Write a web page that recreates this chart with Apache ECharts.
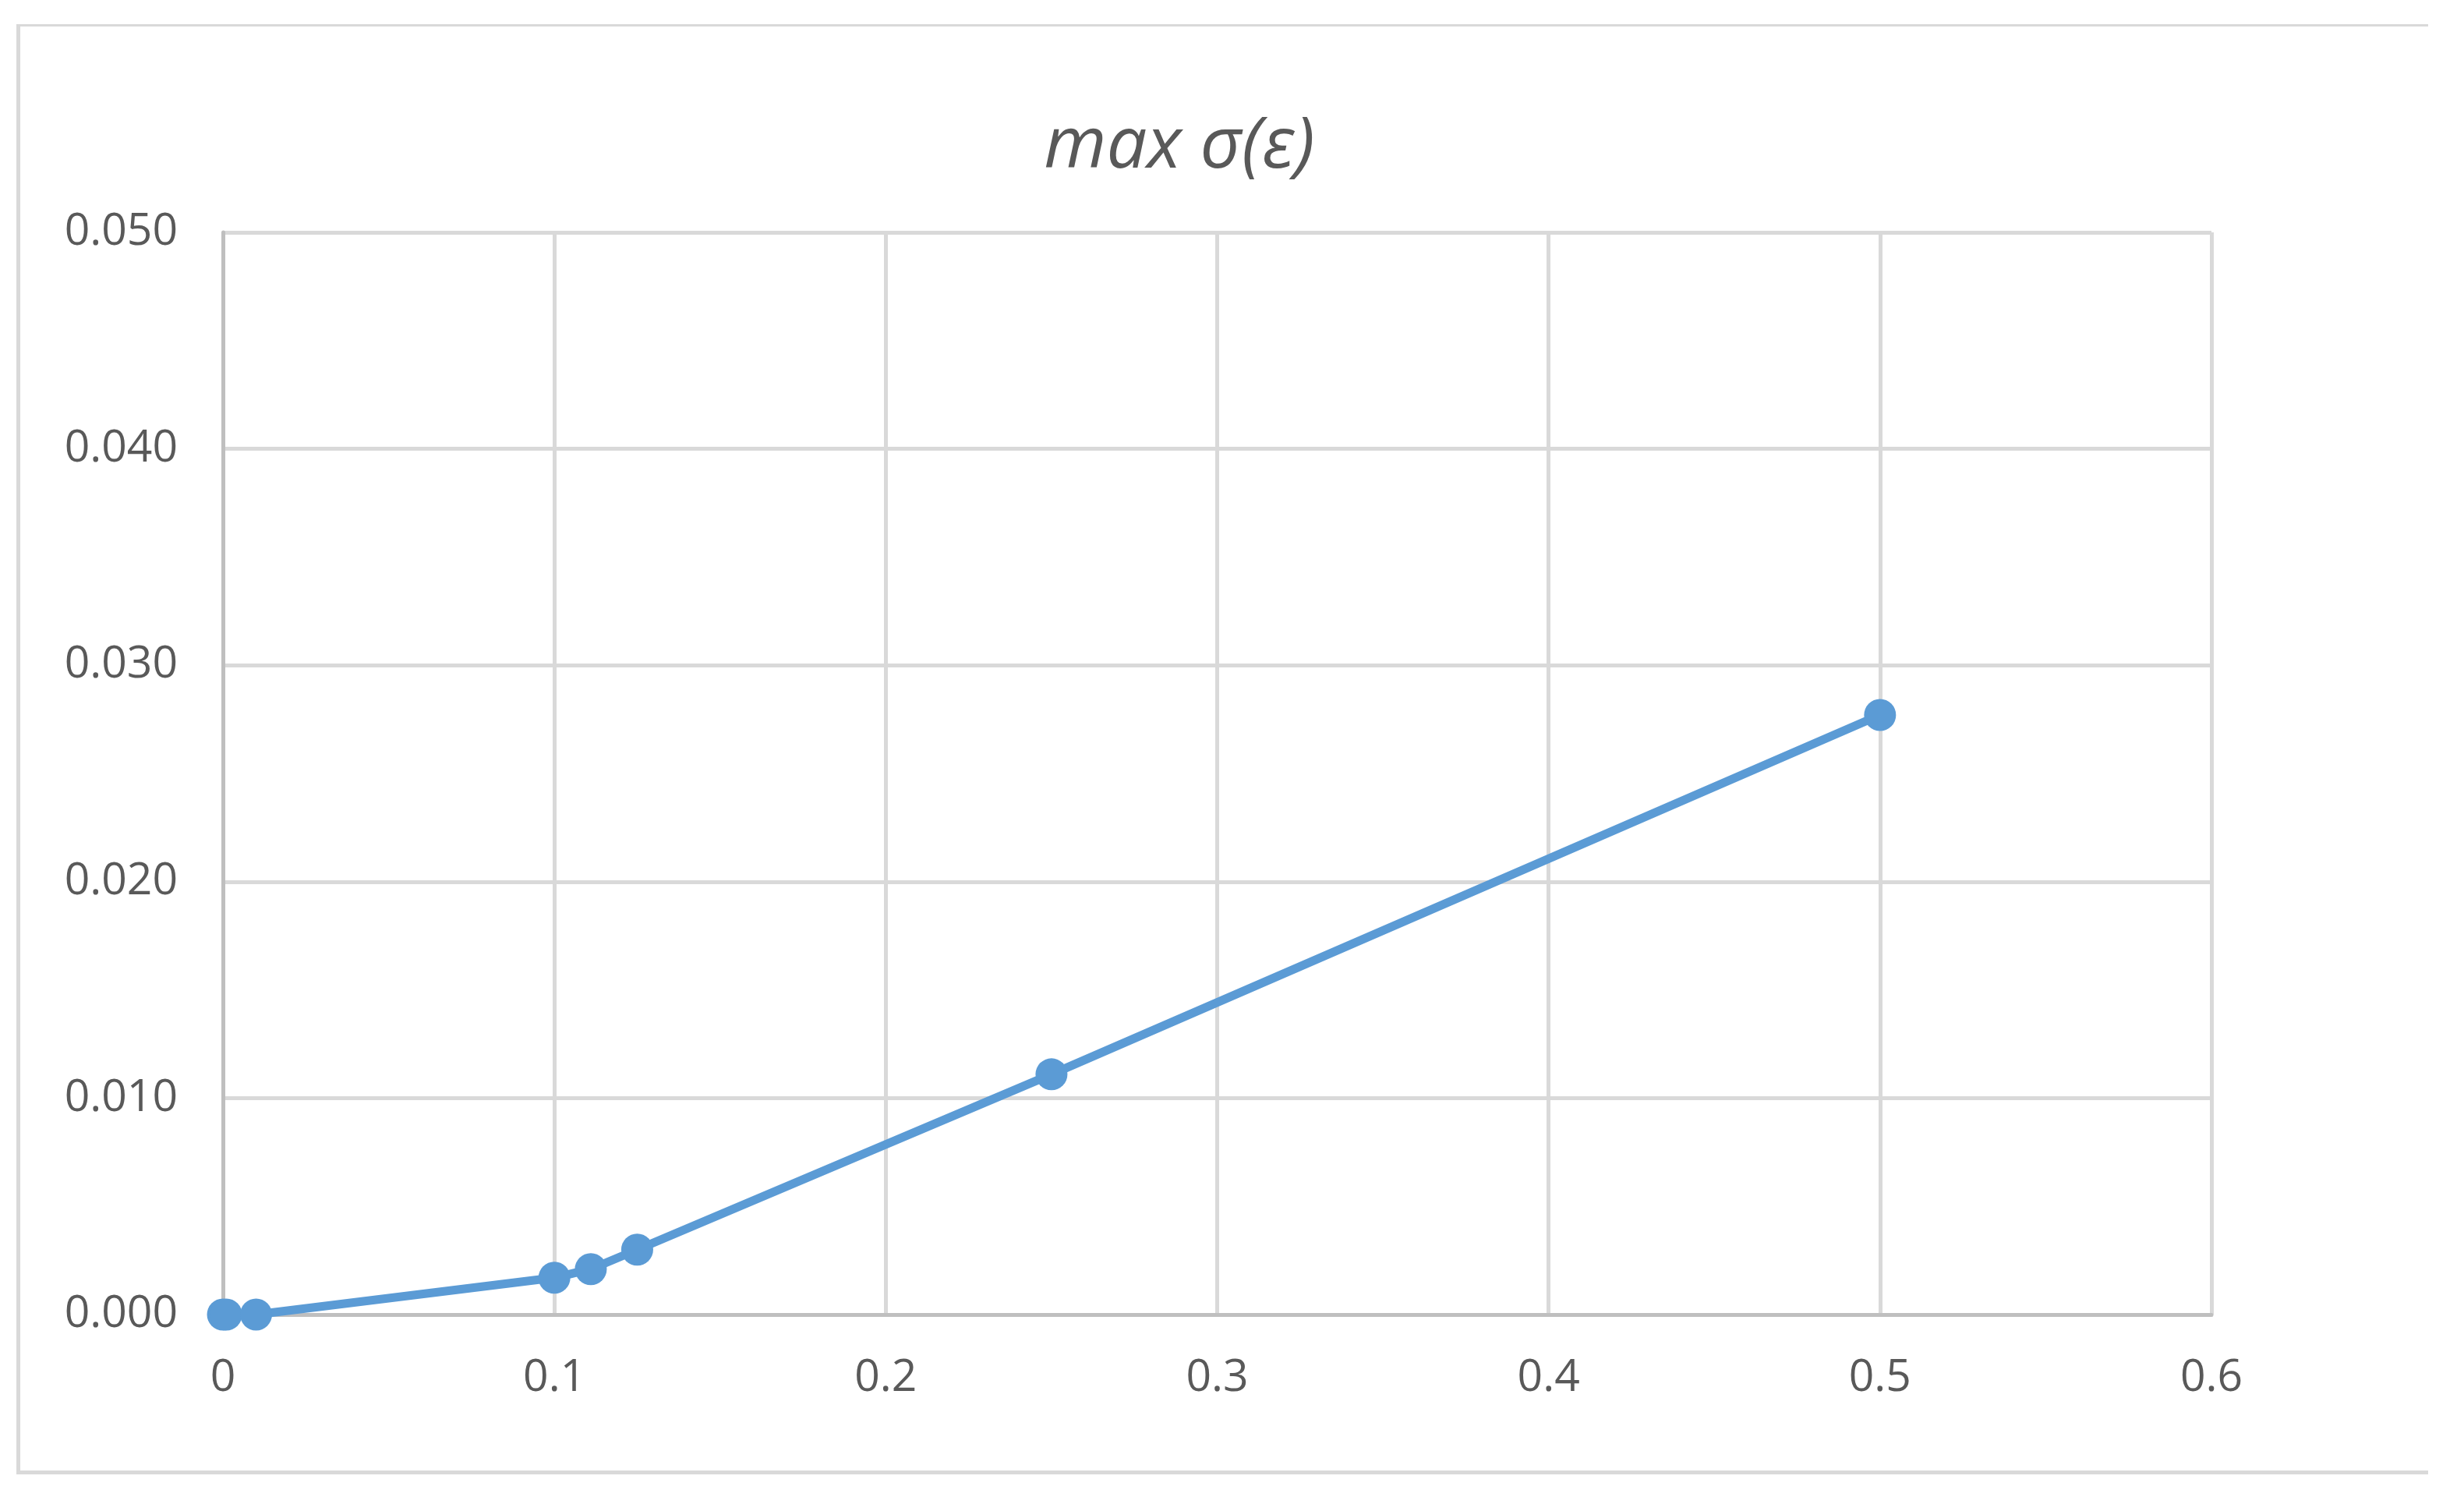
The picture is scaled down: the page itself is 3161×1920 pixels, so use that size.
<!DOCTYPE html>
<html>
<head>
<meta charset="utf-8">
<script src="https://cdn.jsdelivr.net/npm/echarts@6/dist/echarts.min.js"></script>
<style>
  html, body { margin: 0; padding: 0; background: #ffffff; }
  #frame { position: absolute; left: 21px; top: 31px; width: 3089px; height: 1852px;
           border-left: 5px solid #d9d9d9; border-top: 3px solid #d9d9d9; border-bottom: 5px solid #d9d9d9; box-sizing: content-box; }
  #chart { position: absolute; left: 0; top: 0; width: 3161px; height: 1920px; }
</style>
</head>
<body>
<div id="frame"></div>
<div id="chart"></div>
<script>
// ----- data -----
const titleText = 'max σ(ε)';
const epsValues = [0, 0.001, 0.01, 0.1, 0.111, 0.125, 0.25, 0.5];
const sigmaValues = [0, 0, 0, 0.0017, 0.0021, 0.0030, 0.0111, 0.0277];
const xTickLabels = ['0', '0.1', '0.2', '0.3', '0.4', '0.5', '0.6'];
const yTickLabels = ['0.000', '0.010', '0.020', '0.030', '0.040', '0.050'];

const points = epsValues.map((x, i) => [x, sigmaValues[i]]);

const chart = echarts.init(document.getElementById('chart'), null, { renderer: 'canvas' });
const labelFont = { fontFamily: 'Open Sans', fontSize: 57, color: '#595959' };

chart.setOption({
  backgroundColor: 'transparent',
  animation: false,
  title: {
    text: titleText,
    left: 1508,
    top: 138,
    textAlign: 'center',
    textStyle: { fontFamily: 'Open Sans', fontStyle: 'italic', fontWeight: 'normal', fontSize: 92, color: '#595959' }
  },
  grid: { left: 286, right: 324, top: 298, bottom: 234, containLabel: false },
  xAxis: {
    type: 'value',
    min: 0, max: 0.6, interval: 0.1,
    axisLine: { show: true, lineStyle: { color: '#bfbfbf', width: 5 } },
    axisTick: { show: false },
    splitLine: { show: true, lineStyle: { color: '#d9d9d9', width: 5 } },
    axisLabel: Object.assign({ margin: 53, formatter: (v) => xTickLabels[Math.round(v * 10)] }, labelFont)
  },
  yAxis: {
    type: 'value',
    min: 0, max: 0.05, interval: 0.01,
    axisLine: { show: true, lineStyle: { color: '#bfbfbf', width: 5 } },
    axisTick: { show: false },
    splitLine: { show: true, lineStyle: { color: '#d9d9d9', width: 5 } },
    axisLabel: Object.assign({ margin: 58, formatter: (v) => yTickLabels[Math.round(v * 100)] }, labelFont)
  },
  series: [{
    type: 'line',
    data: points,
    symbol: 'circle',
    symbolSize: 41,
    lineStyle: { color: '#5b9bd5', width: 11 },
    itemStyle: { color: '#5b9bd5' },
    clip: false
  }]
});
</script>
</body>
</html>
